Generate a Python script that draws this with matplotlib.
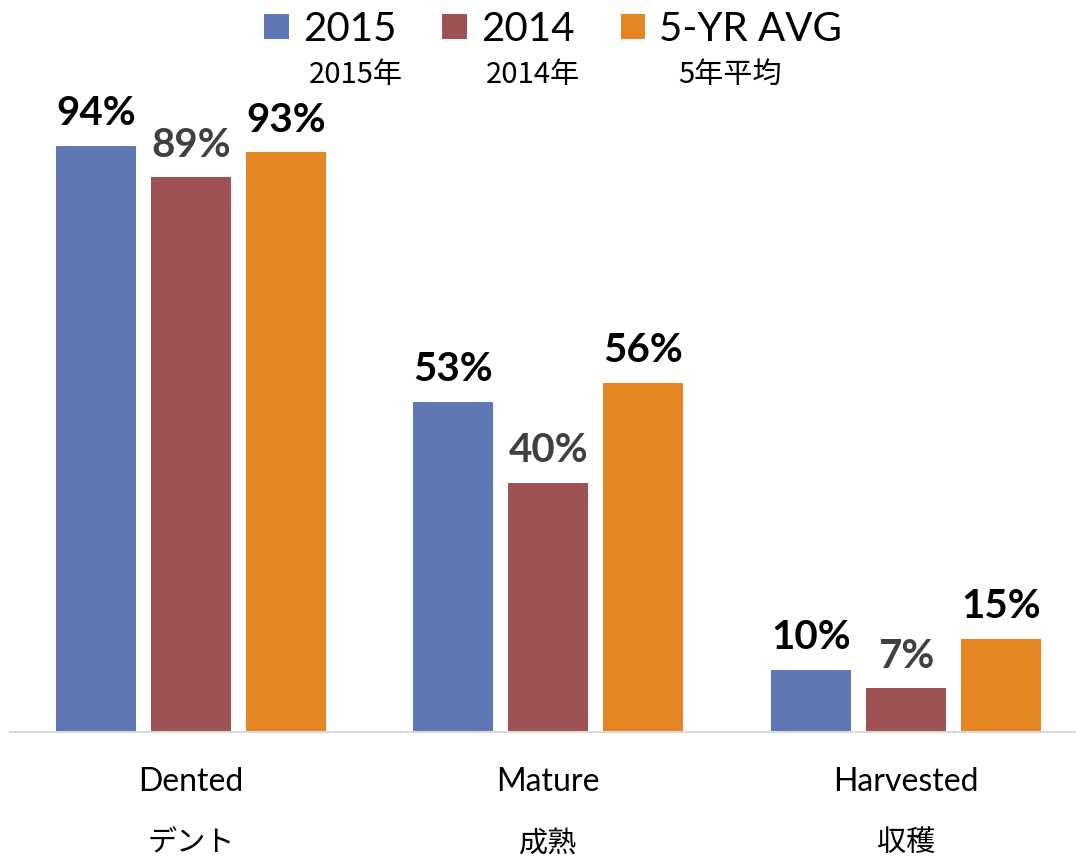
import matplotlib
matplotlib.use('Agg')
import matplotlib.pyplot as plt
import numpy as np

categories = ['Dented', 'Mature', 'Harvested']
categories_jp = ['デント', '成熟', '収穫']
series_names = ['2015', '2014', '5-YR AVG']
series_names_jp = ['2015年', '2014年', '5年平均']
values_2015 = [94, 53, 10]
values_2014 = [89, 40, 7]
values_avg = [93, 56, 15]

colors = ['#5f77b5', '#9e5253', '#e68523']
label_colors = ['black', '#404040', 'black']

plt.rcParams['font.family'] = ['Lato', 'Noto Sans CJK JP', 'DejaVu Sans']

fig = plt.figure(figsize=(10.76, 8.57), dpi=100)
ax = fig.add_axes([10 / 1076, 125 / 857, 1066 / 1076, 632 / 857])

x = np.arange(len(categories))
step = 95 / 357.5
width = 80 / 357.5
handles = []
for i, vals in enumerate([values_2015, values_2014, values_avg]):
    pos = x + (i - 1) * step
    b = ax.bar(pos, vals, width, color=colors[i], label=series_names[i])
    handles.append(b)
    for p, v in zip(pos, vals):
        ax.text(p, v + 2.2, f'{v}%', ha='center', va='bottom', fontsize=29,
                fontweight='bold', color=label_colors[i])

ax.set_xlim(-0.506, 2.476)
ax.set_ylim(0, 101.4)
for s in ['top', 'right', 'left']:
    ax.spines[s].set_visible(False)
ax.spines['bottom'].set_color('#d9d9d9')
ax.spines['bottom'].set_linewidth(1.5)
ax.set_yticks([])
ax.set_xticks(x)
ax.set_xticklabels(categories, fontsize=23)
ax.tick_params(axis='x', length=0, pad=25)

for xi, jp in zip(x, categories_jp):
    ax.annotate(jp, xy=(xi, 0), xycoords='data', xytext=(0, -80),
                textcoords='offset points', ha='center', va='center',
                fontsize=21, family=['Noto Sans CJK JP'])

fig.legend(handles=handles, labels=series_names, loc='upper center',
           bbox_to_anchor=(0.514, 1.03), ncol=3, frameon=False, fontsize=29,
           handlelength=0.6, handleheight=0.6, handletextpad=0.35,
           columnspacing=1.15)

for xp, jp in zip([356, 533, 730], series_names_jp):
    fig.text(xp / 1076, 1 - 75 / 857, jp, ha='center', va='center',
             fontsize=21, family=['Noto Sans CJK JP'])

fig.savefig('out.png', dpi=100)
